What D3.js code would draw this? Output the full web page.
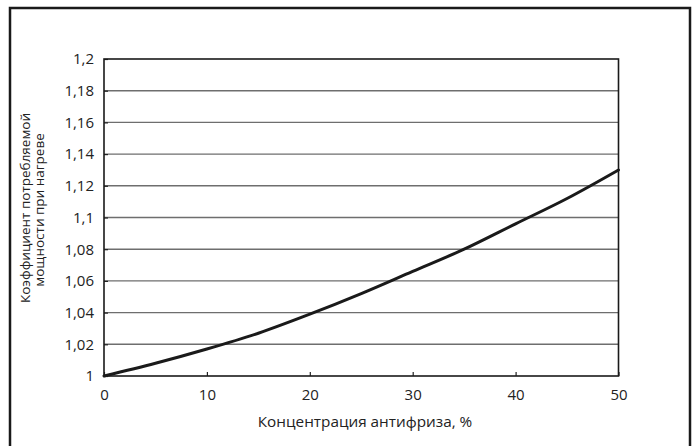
<!DOCTYPE html>
<html>
<head>
<meta charset="utf-8">
<script src="https://cdn.jsdelivr.net/npm/d3@7"></script>
<style>
  body { margin: 0; background: #fff; }
  text { font-family: "Open Sans", "Noto Sans", sans-serif; fill: #222; }
</style>
</head>
<body>
<script>
// concentration of antifreeze, %
var conc = [0, 5, 10, 15, 20, 25, 30, 35, 40, 45, 50];
// heating power consumption coefficient
var coef = [1.0, 1.008, 1.017, 1.027, 1.039, 1.052, 1.066, 1.080, 1.096, 1.112, 1.130];
var xTicks = [0, 10, 20, 30, 40, 50];
var yTicks = [1, 1.02, 1.04, 1.06, 1.08, 1.1, 1.12, 1.14, 1.16, 1.18, 1.2];

var svg = d3.select('body').append('svg')
  .attr('width', 696)
  .attr('height', 446);

// outer frame
svg.append('rect')
  .attr('x', 10)
  .attr('y', 8)
  .attr('width', 680)
  .attr('height', 460)
  .attr('fill', 'none')
  .attr('stroke', '#1a1a1a')
  .attr('stroke-width', 2.5);

var margin = { top: 59, left: 104 },
  width = 514.5,
  height = 317;

var g = svg.append('g')
  .attr('transform', 'translate(' + margin.left + ',' + margin.top + ')');

var x = d3.scaleLinear().domain([0, 50]).range([0, width]);
var y = d3.scaleLinear().domain([1, 1.2]).range([height, 0]);

function fmt(v) {
  return String(+v.toFixed(2)).replace('.', ',');
}

// horizontal grid
g.append('g')
  .selectAll('line')
  .data(yTicks.slice(1, -1))
  .enter().append('line')
  .attr('x1', 0)
  .attr('x2', width)
  .attr('y1', function (d) { return y(d); })
  .attr('y2', function (d) { return y(d); })
  .attr('stroke', '#6e6e6e')
  .attr('stroke-width', 1.4);

// axes with inner ticks
var xAxis = g.append('g')
  .attr('transform', 'translate(0,' + height + ')')
  .call(d3.axisBottom(x).tickValues(xTicks).tickSize(-4).tickPadding(13).tickFormat(fmt));
var yAxis = g.append('g')
  .call(d3.axisLeft(y).tickValues(yTicks).tickSize(-4).tickPadding(10).tickFormat(fmt));

[xAxis, yAxis].forEach(function (a) {
  a.select('.domain').remove();
  a.selectAll('line').attr('stroke', '#222').attr('stroke-width', 1.2);
  a.selectAll('text')
    .attr('font-family', '"Open Sans", "Noto Sans", sans-serif')
    .attr('font-size', 15)
    .attr('fill', '#222');
});

// plot border
g.append('rect')
  .attr('width', width)
  .attr('height', height)
  .attr('fill', 'none')
  .attr('stroke', '#1a1a1a')
  .attr('stroke-width', 1.6);

var line = d3.line()
  .x(function (d, i) { return x(conc[i]); })
  .y(function (d) { return y(d); })
  .curve(d3.curveMonotoneX);

g.append('path')
  .attr('d', line(coef))
  .attr('fill', 'none')
  .attr('stroke', '#1a1a1a')
  .attr('stroke-width', 3)
  .attr('stroke-linecap', 'round');

// x label
svg.append('text')
  .attr('x', 365)
  .attr('y', 427)
  .attr('text-anchor', 'middle')
  .attr('font-size', 15.3)
  .text('Концентрация антифриза, %');

// y label, two lines
svg.append('text')
  .attr('transform', 'translate(30,208) rotate(-90)')
  .attr('text-anchor', 'middle')
  .attr('font-size', 13.5)
  .text('Коэффициент потребляемой');
svg.append('text')
  .attr('transform', 'translate(44,210) rotate(-90)')
  .attr('text-anchor', 'middle')
  .attr('font-size', 13.5)
  .text('мощности при нагреве');
</script>
</body>
</html>
